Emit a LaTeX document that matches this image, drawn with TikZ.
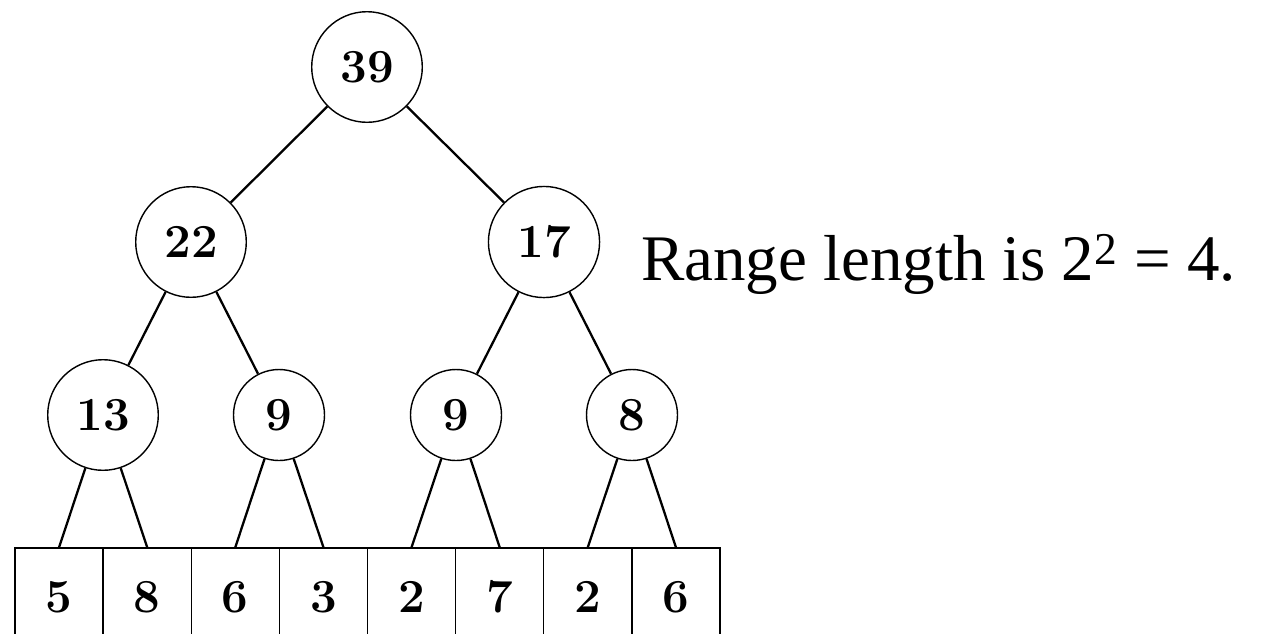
\documentclass[tikz,border=0pt]{standalone}
\usepackage{fontspec}
\usepackage{tikz}
\newfontfamily\timesfont{Liberation Serif}

\begin{document}
\begin{tikzpicture}[x=0.02cm, y=-0.02cm, line width=1.3pt,
    vertex/.style={draw, circle, line width=0.8pt, inner sep=10pt,
                   font=\fontsize{27}{32}\selectfont\bfseries},
    cell/.style={draw, line width=0.8pt, inner sep=0pt,
                 minimum width=1.7625cm, minimum height=1.96cm,
                 font=\fontsize{27}{32}\selectfont\bfseries}]
    \useasboundingbox (0, 0) rectangle (1267, 633);
    \clip (0, 0) rectangle (1267, 633);

    % draw the array cells
    \foreach \v [count=\i] in {5, 8, 6, 3, 2, 7, 2, 6}
      \node[cell] (c\i) at ({15 + 88.125*(\i - 0.5)}, 597) {\v};

    % draw tree nodes
    \node[vertex] (n39) at (367, 67) {39};
    \node[vertex] (n22) at (191, 242) {22};
    \node[vertex] (n17) at (544, 242) {17};
    \node[vertex] (n13) at (103, 415) {13};
    \node[vertex] (n9a) at (279, 415) {9};
    \node[vertex] (n9b) at (456, 415) {9};
    \node[vertex] (n8)  at (632, 415) {8};

    % draw edges
    \draw (n39) -- (n22);
    \draw (n39) -- (n17);
    \draw (n22) -- (n13);
    \draw (n22) -- (n9a);
    \draw (n17) -- (n9b);
    \draw (n17) -- (n8);
    \draw (n13) -- (c1.north);
    \draw (n13) -- (c2.north);
    \draw (n9a) -- (c3.north);
    \draw (n9a) -- (c4.north);
    \draw (n9b) -- (c5.north);
    \draw (n9b) -- (c6.north);
    \draw (n8)  -- (c7.north);
    \draw (n8)  -- (c8.north);

    % draw symbols
    \node[anchor=base west, inner sep=0pt, font=\timesfont\fontsize{37}{44}\selectfont]
      (rangetext) at (640, 280) {Range length is 2\textsuperscript{2} = 4.};

\end{tikzpicture}
\end{document}
